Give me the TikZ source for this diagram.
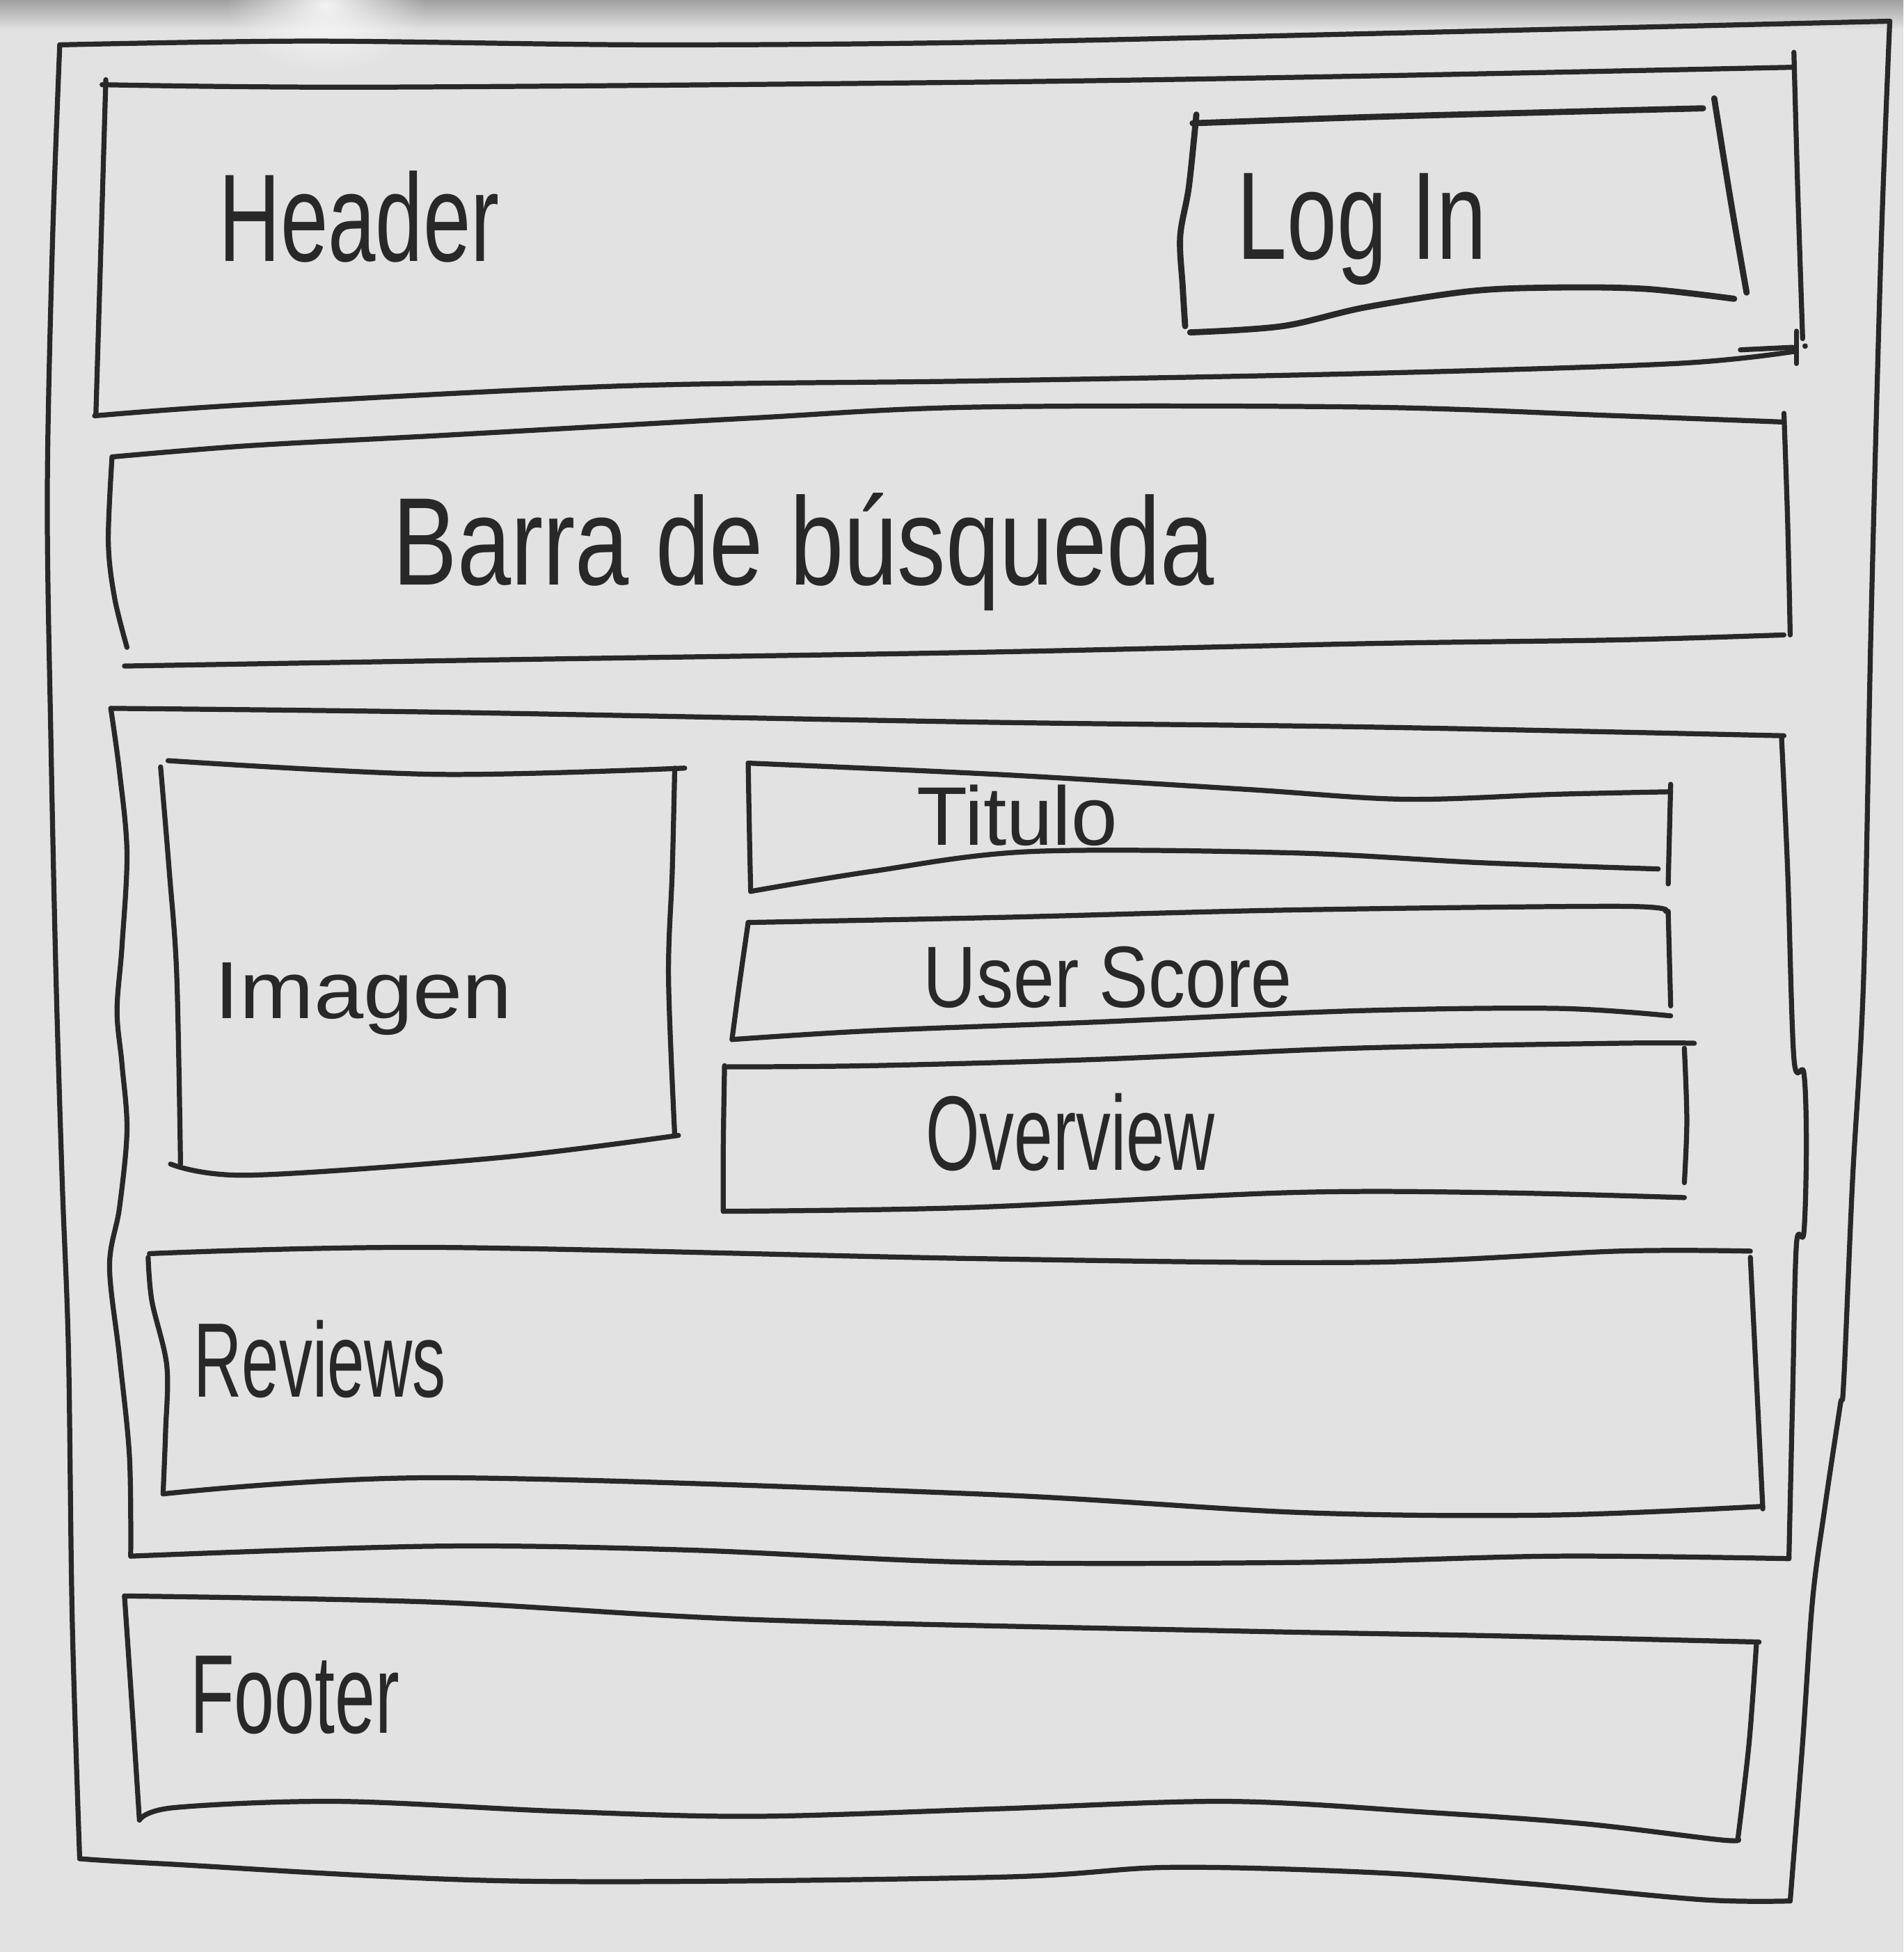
\documentclass[tikz,border=0pt]{standalone}
\usepackage{fontspec}
\setmainfont{Liberation Sans}
\usetikzlibrary{fadings}

\definecolor{board}{RGB}{226,226,226}
\definecolor{boardshadow}{RGB}{160,160,160}
\definecolor{ink}{RGB}{40,40,40}

\tikzfading[name=softglow, inner color=transparent!0, outer color=transparent!100]

\tikzset{
  pen/.style={draw=ink, line width=1.15pt, line cap=round, line join=round},
  thickpen/.style={pen, line width=1.4pt},
  hand/.style={text=ink, inner sep=0pt, anchor=base west},
}
\newcommand{\penline}[2][]{\draw[pen,#1] plot[smooth, tension=0.55] coordinates {#2};}

\begin{document}
\begin{tikzpicture}[x=0.01cm, y=-0.01cm]
  % whiteboard surface
  \useasboundingbox (0,0) rectangle (1529,1568);
  \fill[board] (0,0) rectangle (1529,1568);
  \shade[top color=boardshadow, bottom color=board] (0,0) rectangle (1529,24);
  \fill[white, path fading=softglow, opacity=0.85] (262,4) ellipse [x radius=80, y radius=55];

  % outer page frame
  \penline{(48,36) (250,33) (520,36) (784,34) (1100,27) (1518,17)}
  \penline{(1518,17) (1511,200) (1503,500) (1497,785) (1488,950) (1481,1110) (1478,1130) (1466,1210) (1456,1285) (1448,1400) (1438,1527)}
  \penline{(64,1493) (129,1497) (415,1511) (796,1508) (939,1500) (1100,1504) (1226,1513) (1368,1526) (1438,1527)}
  \penline{(48,36) (42,200) (38,400) (41,600) (45,785) (50,950) (55,1085) (58,1300) (64,1493)}

  % header
  \penline{(82,68) (300,70) (784,66) (1100,61) (1441,54)}
  \penline{(85,64) (81,200) (77,334)}
  \penline{(1441,42) (1444,150) (1448,272)}
  \penline{(76,334) (200,325) (500,310) (784,306) (1096,300) (1346,292) (1443,282)}
  \penline{(1398,281) (1440,279)}
  \penline{(1443,266) (1443,292)}
  \fill[ink] (1450,278) circle [radius=2.2];
  \node[hand, font=\fontsize{28.5}{30}\selectfont] (headerlabel) at (175,210) {\scalebox{0.686}[1]{Header}};

  % log in button
  \penline[thickpen]{(958,99) (1100,94) (1250,90) (1368,87)}
  \penline[thickpen]{(961,92) (955,150) (948,190) (950,230) (952,262)}
  \penline[thickpen]{(1377,79) (1390,160) (1403,235)}
  \penline[thickpen]{(956,267) (1030,262) (1096,247) (1180,234) (1246,231) (1321,232) (1393,240)}
  \node[hand, font=\fontsize{28.5}{30}\selectfont] (loginlabel) at (993,208) {\scalebox{0.72}[1]{Log In}};

  % search bar
  \penline{(90,367) (200,358) (350,350) (600,336) (784,327) (1096,327) (1300,334) (1433,339)}
  \penline{(90,367) (87,435) (92,480) (102,520)}
  \penline{(1433,332) (1436,420) (1438,510)}
  \penline{(100,535) (400,530) (784,524) (1096,517) (1300,514) (1433,510)}
  \node[hand, font=\fontsize{28.5}{30}\selectfont] (searchlabel) at (315,470) {\scalebox{0.774}[1]{Barra de búsqueda}};

  % main content block
  \penline{(89,569) (350,572) (784,580) (1100,584) (1433,591)}
  \penline{(1431,591) (1436,700) (1441,850) (1449,862) (1451,920) (1449,990) (1443,1000) (1440,1120) (1437,1252)}
  \penline{(105,1250) (350,1242) (550,1245) (784,1255) (1046,1255) (1250,1250) (1437,1252)}
  \penline{(89,569) (96,620) (102,685) (98,760) (94,812) (98,855) (102,908) (96,970) (88,1017) (96,1090) (104,1170) (105,1250)}

  % image placeholder
  \penline{(135,611) (350,622) (550,617)}
  \penline{(129,616) (136,700) (142,784) (145,935)}
  \penline{(542,617) (540,700) (537,785) (542,912)}
  \penline{(137,935) (200,944) (400,930) (545,912)}
  \node[hand, font=\fontsize{18.5}{20}\selectfont] (imagelabel) at (172,818) {\scalebox{1.1}[1]{Imagen}};

  % title strip
  \penline{(601,613) (800,622) (1000,634) (1128,642) (1250,638) (1342,636)}
  \penline{(601,613) (602,670) (603,716)}
  \penline{(1342,630) (1341,670) (1340,710)}
  \penline{(603,716) (700,700) (828,684) (1035,685) (1190,693) (1332,698)}
  \node[hand, font=\fontsize{19}{21}\selectfont] (titlelabel) at (736,679) {Titulo};

  % user score strip
  \penline{(601,741) (800,737) (1035,731) (1300,728) (1338,732)}
  \penline{(601,741) (594,790) (588,835)}
  \penline{(1340,732) (1342,808)}
  \penline{(588,835) (700,828) (880,821) (1087,812) (1250,810) (1342,816)}
  \node[hand, font=\fontsize{19.9}{22}\selectfont] (scorelabel) at (741,809) {\scalebox{0.846}[1]{User Score}};

  % overview strip
  \penline{(582,857) (700,856) (880,851) (1087,842) (1300,838) (1361,838)}
  \penline{(582,856) (581,920) (581,973)}
  \penline{(1353,842) (1355,900) (1353,950)}
  \penline{(581,973) (777,970) (1035,958) (1200,958) (1353,962)}
  \node[hand, font=\fontsize{24.2}{26}\selectfont] (overviewlabel) at (743,940) {\scalebox{0.655}[1]{Overview}};

  % reviews block
  \penline{(120,1007) (350,1002) (784,1011) (1096,1014) (1300,1005) (1406,1005)}
  \penline{(119,1010) (122,1045) (134,1097) (133,1150) (131,1200)}
  \penline{(1406,1010) (1411,1110) (1416,1212)}
  \penline{(131,1200) (350,1187) (784,1200) (1046,1215) (1246,1217) (1416,1210)}
  \node[hand, font=\fontsize{24.2}{26}\selectfont] (reviewslabel) at (155,1122) {\scalebox{0.63}[1]{Reviews}};

  % footer
  \penline{(100,1282) (350,1287) (606,1301) (987,1310) (1200,1314) (1413,1319)}
  \penline{(100,1282) (106,1370) (112,1462)}
  \penline{(1411,1319) (1405,1400) (1396,1477)}
  \penline{(112,1462) (140,1452) (272,1447) (450,1455) (606,1459) (800,1453) (987,1447) (1150,1456) (1273,1465) (1383,1478) (1396,1477)}
  \node[hand, font=\fontsize{25.6}{27}\selectfont] (footerlabel) at (152,1392) {\scalebox{0.646}[1]{Footer}};
\end{tikzpicture}
\end{document}
